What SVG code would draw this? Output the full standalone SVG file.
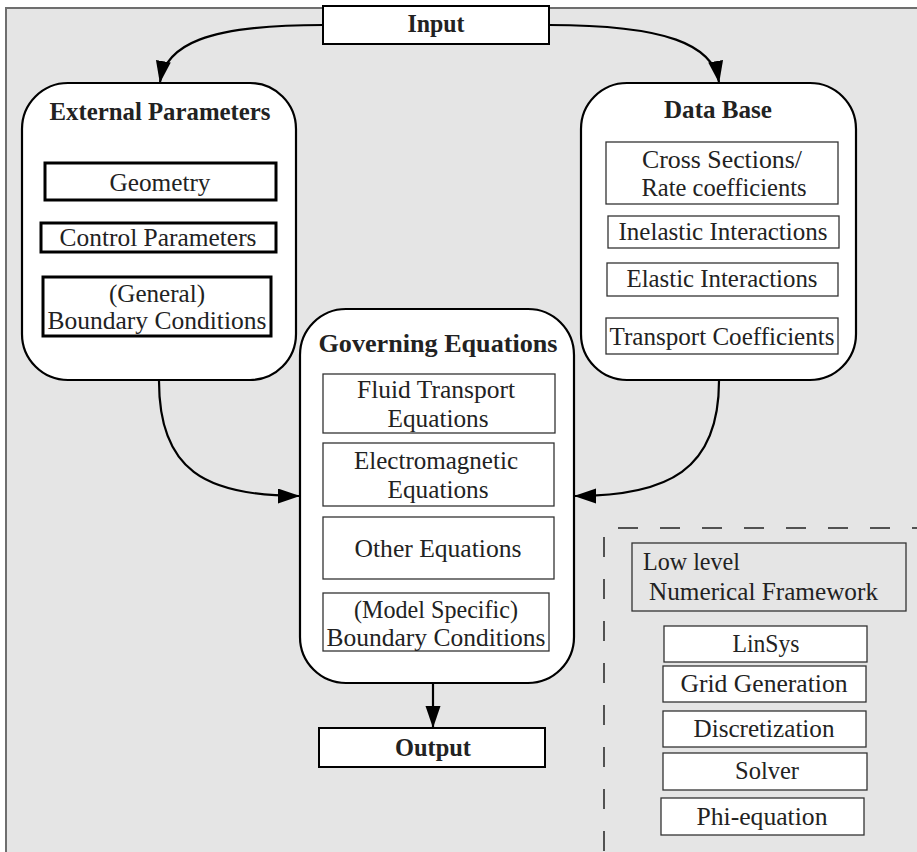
<svg xmlns="http://www.w3.org/2000/svg" width="917" height="852" viewBox="0 0 917 852">
<defs>
<style>
.bg{fill:#e5e5e5}
.frame{stroke:#6e6e6e;stroke-width:2;fill:none}
.big{fill:#fff;stroke:#000;stroke-width:2.2}
.io{fill:#fff;stroke:#000;stroke-width:2}
.thick{fill:#fff;stroke:#000;stroke-width:3}
.thin{fill:#fff;stroke:#333;stroke-width:1.3}
.gray{fill:#e5e5e5;stroke:#333;stroke-width:1.3}
.t{font-family:"Liberation Serif","Times New Roman",serif;font-size:25px;fill:#222;text-anchor:middle}
.b{font-family:"Liberation Serif","Times New Roman",serif;font-size:25px;font-weight:bold;fill:#222;text-anchor:middle}
.l{text-anchor:start}
.c{fill:none;stroke:#000;stroke-width:2.2}
.dash{fill:none;stroke:#222;stroke-width:1.5;stroke-dasharray:20 22}
</style>
<marker id="ah" markerUnits="userSpaceOnUse" markerWidth="22" markerHeight="16" refX="21" refY="7.5" orient="auto" viewBox="0 0 22 16">
<path d="M0,0 L22,7.5 L0,15 z" fill="#000"/>
</marker>
</defs>

<rect x="0" y="0" width="917" height="852" fill="#fff"/>
<rect class="bg" x="6" y="8" width="911" height="844"/>
<path class="frame" d="M6,852 V8 H917"/>

<g id="connectors">
<path class="c" d="M323,25 C205,25 166,45 160,82" marker-end="url(#ah)"/>
<path class="c" d="M549,25 C667,25 713,45 719,82" marker-end="url(#ah)"/>
<path class="c" d="M159,381 C159,470 205,496 299,496" marker-end="url(#ah)"/>
<path class="c" d="M719,381 C719,470 668,496 575,496" marker-end="url(#ah)"/>
<path class="c" d="M433,684 V727" marker-end="url(#ah)"/>
</g>

<g id="input">
<rect class="io" x="323" y="6" width="226" height="38"/>
<text class="b" x="436" y="32" textLength="57" lengthAdjust="spacingAndGlyphs">Input</text>
</g>

<g id="external-parameters">
<rect class="big" x="22" y="83" width="274" height="297" rx="46" ry="46"/>
<text class="b" x="160" y="120" textLength="221" lengthAdjust="spacingAndGlyphs">External Parameters</text>
<g id="geometry">
<rect class="thick" x="45" y="163" width="231" height="37"/>
<text class="t" x="160" y="191" textLength="101" lengthAdjust="spacingAndGlyphs">Geometry</text>
</g>
<g id="control-parameters">
<rect class="thick" x="41" y="223" width="235" height="29"/>
<text class="t" x="158" y="246" textLength="197" lengthAdjust="spacingAndGlyphs">Control Parameters</text>
</g>
<g id="general-bc">
<rect class="thick" x="43" y="277" width="228" height="59"/>
<text class="t" x="157" y="302" textLength="96" lengthAdjust="spacingAndGlyphs">(General)</text>
<text class="t" x="157" y="329" textLength="219" lengthAdjust="spacingAndGlyphs">Boundary Conditions</text>
</g>
</g>

<g id="data-base">
<rect class="big" x="581" y="83" width="275" height="297" rx="46" ry="46"/>
<text class="b" x="718" y="118" textLength="108" lengthAdjust="spacingAndGlyphs">Data Base</text>
<g id="cross-sections">
<rect class="thin" x="606" y="142" width="232" height="62"/>
<text class="t" x="722" y="168" textLength="160" lengthAdjust="spacingAndGlyphs">Cross Sections/</text>
<text class="t" x="724" y="196" textLength="165" lengthAdjust="spacingAndGlyphs">Rate coefficients</text>
</g>
<g id="inelastic">
<rect class="thin" x="608" y="216" width="231" height="32"/>
<text class="t" x="723" y="240" textLength="209" lengthAdjust="spacingAndGlyphs">Inelastic Interactions</text>
</g>
<g id="elastic">
<rect class="thin" x="607" y="263" width="231" height="33"/>
<text class="t" x="722" y="287" textLength="191" lengthAdjust="spacingAndGlyphs">Elastic Interactions</text>
</g>
<g id="transport-coefficients">
<rect class="thin" x="606" y="318" width="232" height="36"/>
<text class="t" x="722" y="345" textLength="225" lengthAdjust="spacingAndGlyphs">Transport Coefficients</text>
</g>
</g>

<g id="governing-equations">
<rect class="big" x="300" y="309" width="274" height="374" rx="46" ry="46"/>
<text class="b" x="438" y="352" textLength="239" lengthAdjust="spacingAndGlyphs">Governing Equations</text>
<g id="fluid-transport">
<rect class="thin" x="323" y="374" width="232" height="59"/>
<text class="t" x="436" y="398" textLength="158" lengthAdjust="spacingAndGlyphs">Fluid Transport</text>
<text class="t" x="438" y="427" textLength="101" lengthAdjust="spacingAndGlyphs">Equations</text>
</g>
<g id="electromagnetic">
<rect class="thin" x="323" y="443" width="231" height="63"/>
<text class="t" x="436" y="469" textLength="164" lengthAdjust="spacingAndGlyphs">Electromagnetic</text>
<text class="t" x="438" y="498" textLength="101" lengthAdjust="spacingAndGlyphs">Equations</text>
</g>
<g id="other-equations">
<rect class="thin" x="323" y="517" width="231" height="62"/>
<text class="t" x="438" y="557" textLength="167" lengthAdjust="spacingAndGlyphs">Other Equations</text>
</g>
<g id="model-bc">
<rect class="thin" x="323" y="593" width="226" height="58"/>
<text class="t" x="436" y="618" textLength="164" lengthAdjust="spacingAndGlyphs">(Model Specific)</text>
<text class="t" x="436" y="646" textLength="219" lengthAdjust="spacingAndGlyphs">Boundary Conditions</text>
</g>
</g>

<g id="output">
<rect class="io" x="319" y="728" width="226" height="39"/>
<text class="b" x="433" y="756" textLength="76" lengthAdjust="spacingAndGlyphs">Output</text>
</g>

<g id="numerical-region">
<path class="dash" d="M618,528 H917"/>
<path class="dash" d="M604,537 V852"/>
</g>

<g id="low-level">
<rect class="gray" x="632" y="543" width="274" height="68"/>
<text class="t l" x="643" y="570" textLength="97" lengthAdjust="spacingAndGlyphs">Low level</text>
<text class="t l" x="649" y="600" textLength="229" lengthAdjust="spacingAndGlyphs">Numerical Framework</text>
</g>
<g id="linsys">
<rect class="thin" x="664" y="626" width="203" height="36"/>
<text class="t" x="766" y="652" textLength="67" lengthAdjust="spacingAndGlyphs">LinSys</text>
</g>
<g id="grid-generation">
<rect class="thin" x="663" y="666" width="203" height="36"/>
<text class="t" x="764" y="692" textLength="167" lengthAdjust="spacingAndGlyphs">Grid Generation</text>
</g>
<g id="discretization">
<rect class="thin" x="663" y="711" width="203" height="36"/>
<text class="t" x="764" y="737" textLength="141" lengthAdjust="spacingAndGlyphs">Discretization</text>
</g>
<g id="solver">
<rect class="thin" x="663" y="753" width="204" height="37"/>
<text class="t" x="767" y="779" textLength="64" lengthAdjust="spacingAndGlyphs">Solver</text>
</g>
<g id="phi-equation">
<rect class="thin" x="661" y="798" width="203" height="37"/>
<text class="t" x="762" y="825" textLength="131" lengthAdjust="spacingAndGlyphs">Phi-equation</text>
</g>
</svg>
